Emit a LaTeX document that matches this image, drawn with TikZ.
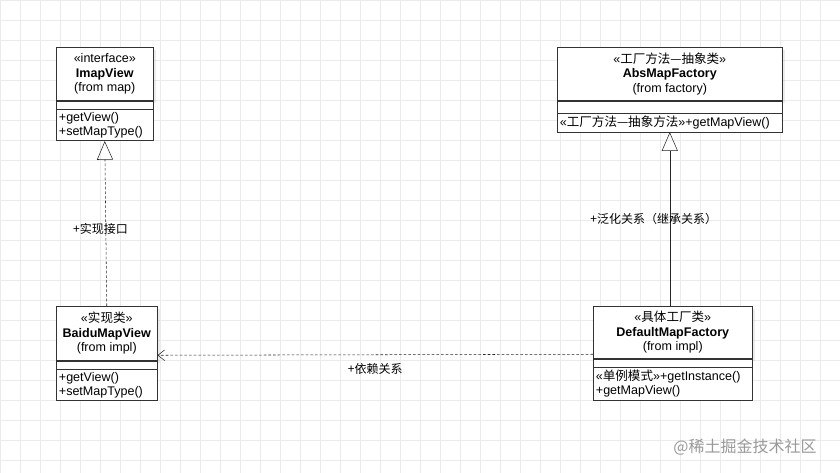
\documentclass[tikz,border=0pt]{standalone}
\usepackage{fontspec}
\setmainfont{Liberation Sans}
\newfontfamily\cjk{Noto Sans CJK SC}
\usetikzlibrary{positioning,arrows.meta,shadows}

\tikzset{
  head/.style={draw=black!80, fill=white, align=center, font=\fontsize{9.4}{10.8}\selectfont,
    inner sep=2pt, anchor=north west, drop shadow={opacity=0.15, shadow xshift=2pt, shadow yshift=-2pt}},
  blank/.style={draw=black!80, fill=white, inner sep=0pt, minimum height=6pt},
  ops/.style={draw=black!80, fill=white, align=left, font=\fontsize{9.4}{10.8}\selectfont,
    inner sep=2pt, text width=#1},
  lbl/.style={font=\fontsize{9}{10}\selectfont},
  dep/.style={dash pattern=on 2pt off 1.5pt, black!85},
}

\begin{document}
\begin{tikzpicture}[x=0.75pt,y=-0.75pt]
  \useasboundingbox (0,0) rectangle (840,473);
  \fill[white] (0,0) rectangle (840,473);
  \draw[black!8, step=15pt] (0,0) grid (840,473);

  % interface
  \node[head, minimum width=97*0.75pt, minimum height=53*0.75pt] (imap) at (56,47)
    {\guillemotleft interface\guillemotright\\\textbf{ImapView}\\(from map)};
  \node[blank, minimum width=97*0.75pt, below=0pt of imap] (imapA) {};
  \node[ops={97*0.75pt-4pt}, below=0pt of imapA] (imapO) {+getView()\\+setMapType()};

  % abstract factory
  \node[head, minimum width=225*0.75pt, minimum height=53*0.75pt] (abs) at (557,47)
    {\guillemotleft{\cjk 工厂方法—抽象类}\guillemotright\\\textbf{AbsMapFactory}\\(from factory)};
  \node[blank, minimum width=225*0.75pt, minimum height=9pt, below=0pt of abs] (absA) {};
  \node[ops={225*0.75pt-4pt}, below=0pt of absA] (absO)
    {\guillemotleft{\cjk 工厂方法—抽象方法}\guillemotright+getMapView()};

  % concrete view
  \node[head, minimum width=101*0.75pt, minimum height=54*0.75pt] (baidu) at (56,306)
    {\guillemotleft{\cjk 实现类}\guillemotright\\\textbf{BaiduMapView}\\(from impl)};
  \node[blank, minimum width=101*0.75pt, below=0pt of baidu] (baiduA) {};
  \node[ops={101*0.75pt-4pt}, below=0pt of baiduA] (baiduO) {+getView()\\+setMapType()};

  % concrete factory
  \node[head, minimum width=159*0.75pt, minimum height=52*0.75pt] (dflt) at (593,306)
    {\guillemotleft{\cjk 具体工厂类}\guillemotright\\\textbf{DefaultMapFactory}\\(from impl)};
  \node[blank, minimum width=159*0.75pt, below=0pt of dflt] (dfltA) {};
  \node[ops={159*0.75pt-4pt}, below=0pt of dfltA] (dfltO)
    {\guillemotleft{\cjk 单例模式}\guillemotright+getInstance()\\+getMapView()};

  % relations
  \draw[dep, -{Triangle[open, width=12pt, length=14pt]}] (baidu.north) -- (imapO.south)
    node[lbl, pos=0.47, left=-20pt, text=black] {\cjk +实现接口};
  \draw[black!85, -{Triangle[open, width=12pt, length=14pt]}] (dflt.north -| absO.south) -- (absO.south)
    node[lbl, pos=0.5, left=-39pt, text=black] {\cjk +泛化关系（继承关系）};
  \draw[dep, -{Straight Barb[length=5pt, width=8pt]}]
    ([yshift=-16.5pt]dflt.west) -- ([yshift=-16.5pt]baidu.east)
    node[lbl, midway, below=3pt, text=black] {\cjk +依赖关系};

  \node[font=\cjk\fontsize{12}{14}\selectfont, text=black!40] (mark) at (745,447) {@稀土掘金技术社区};
\end{tikzpicture}
\end{document}
